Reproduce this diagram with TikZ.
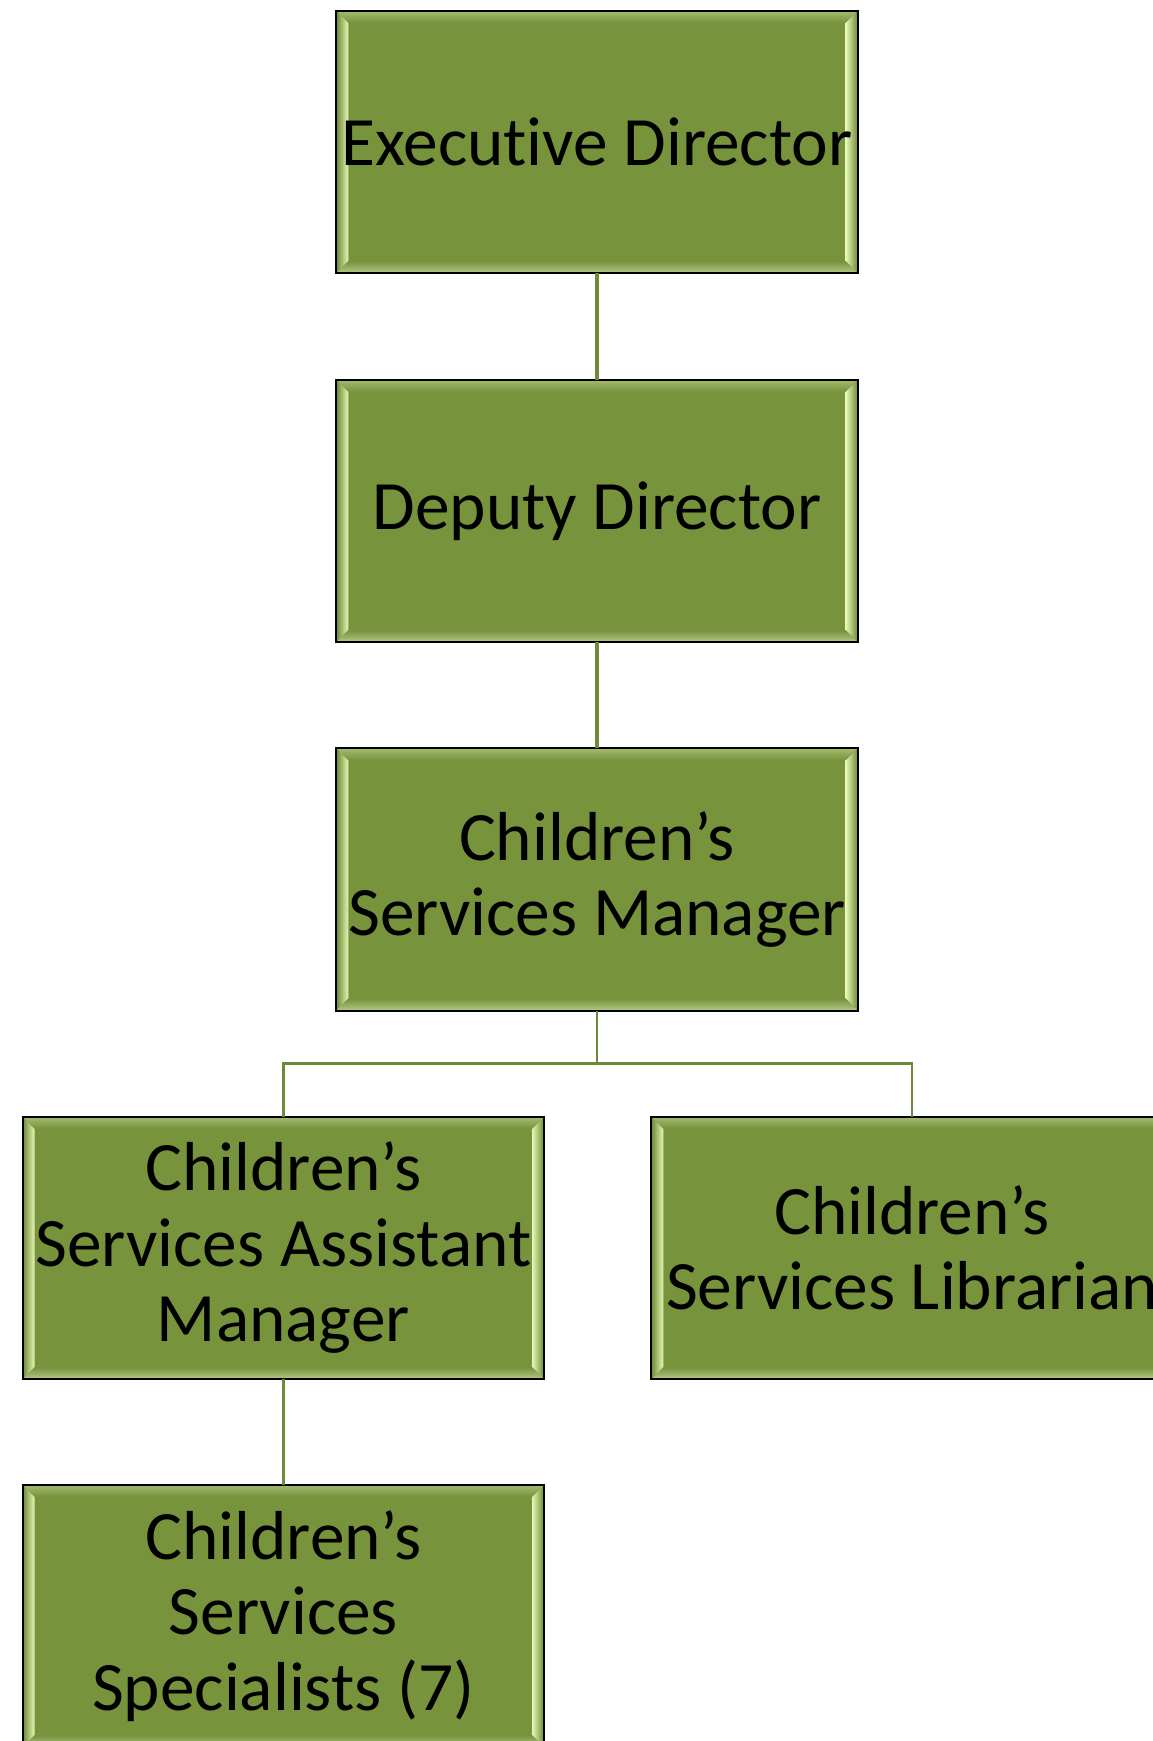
\documentclass[tikz,border=0pt]{standalone}
\usepackage{fontspec}
\setmainfont[Ligatures={NoCommon}]{Carlito}
\usetikzlibrary{calc,backgrounds}
\definecolor{boxgreen}{HTML}{77933C}
\definecolor{bevlight}{HTML}{E6F8B4}
\definecolor{bevtop}{HTML}{A3BB6E}
\definecolor{bevbot}{HTML}{B4C889}
\definecolor{bevside}{HTML}{6C8736}
\definecolor{linkgreen}{HTML}{6C8B37}
\begin{document}
\begin{tikzpicture}[x=1pt,y=1pt,
  orgbox/.style={minimum width=521pt, minimum height=262pt, text width=521pt, inner sep=0pt,
    align=center, font=\fontsize{69.3}{75.5}\selectfont,
    execute at begin node={\spaceskip=0.226em\relax}},
  boxedge/.style={draw=black, line width=2pt},
  link/.style={draw=linkgreen, line width=3.5pt},
  branch/.style={draw=linkgreen, line width=2.5pt}]
\useasboundingbox (0,0) rectangle (1153,1741);
\node[orgbox] (ed) at (597,1599) {Executive Director};
\node[orgbox] (dd) at (597,1230) {Deputy Director};
\node[orgbox] (csm) at (597,861.5) {Children’s\\Services Manager};
\node[orgbox] (csam) at (283.3,493) {Children’s\\Services Assistant\\Manager};
\node[orgbox] (csl) at (912,493) {Children’s\\Services Librarian};
\node[orgbox] (css) at (283.3,125) {Children’s\\Services\\Specialists (7)};
\begin{scope}[on background layer]
\foreach \n in {ed,dd,csm,csam,csl,css}{
  \fill[boxgreen] (\n.south west) rectangle (\n.north east);
  \shade[left color=bevside, right color=bevlight]
    (\n.south west) -- ($(\n.south west)+(12,12)$) -- ($(\n.north west)+(12,-12)$) -- (\n.north west) -- cycle;
  \shade[left color=bevlight, right color=bevside]
    (\n.south east) -- ($(\n.south east)+(-12,12)$) -- ($(\n.north east)+(-12,-12)$) -- (\n.north east) -- cycle;
  \shade[top color=bevtop, bottom color=boxgreen]
    (\n.north west) -- (\n.north east) -- ($(\n.north east)+(-12,-12)$) -- ($(\n.north west)+(12,-12)$) -- cycle;
  \shade[bottom color=bevbot, top color=boxgreen]
    (\n.south west) -- (\n.south east) -- ($(\n.south east)+(-12,12)$) -- ($(\n.south west)+(12,12)$) -- cycle;
  \draw[boxedge] (\n.south west) rectangle (\n.north east);
}
\end{scope}
\coordinate (fork) at ($(csm.south)!0.5!(csm.south |- csam.north)$);
\draw[link] (ed.south) -- (dd.north);
\draw[link] (dd.south) -- (csm.north);
\draw[branch] (csm.south) -- (fork);
\draw[branch] (fork) -| (csam.north);
\draw[branch] (fork) -| (csl.north);
\draw[branch] (csam.south) -- (css.north);
\end{tikzpicture}
\end{document}
